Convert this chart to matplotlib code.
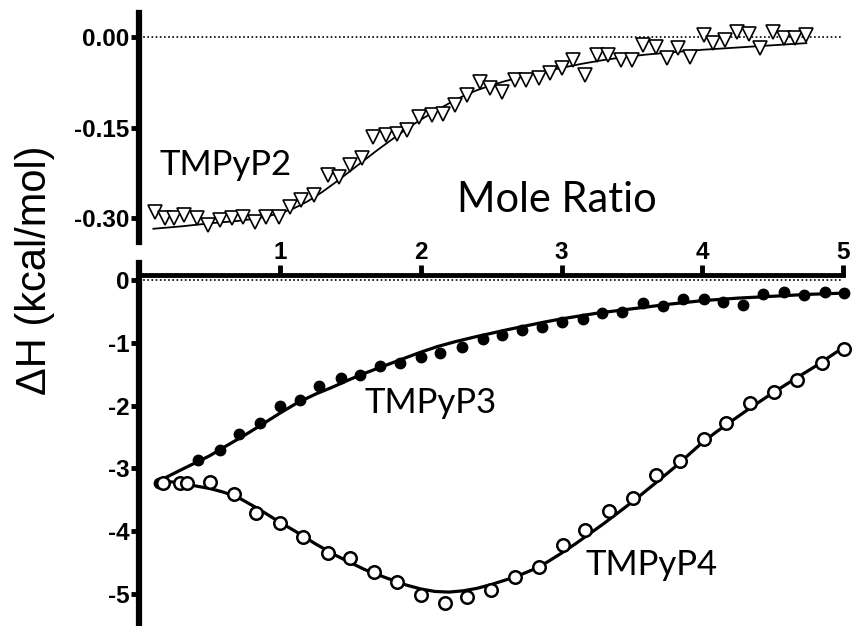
import matplotlib
matplotlib.use('Agg')
import matplotlib.pyplot as plt

# ==============================================
# Data
# ==============================================
# TMPyP2 (top panel), open triangles
p2_x = [0.11, 0.18, 0.25, 0.32, 0.41, 0.49, 0.57, 0.66, 0.74, 0.82, 0.90, 0.99,
        1.07, 1.15, 1.24, 1.34, 1.42, 1.50, 1.58, 1.66, 1.75, 1.83, 1.90, 1.99,
        2.08, 2.16, 2.24, 2.33, 2.42, 2.49, 2.58, 2.67, 2.75, 2.84, 2.92, 3.00,
        3.08, 3.17, 3.25, 3.33, 3.42, 3.50, 3.58, 3.67, 3.75, 3.83, 3.91, 4.01,
        4.08, 4.16, 4.25, 4.33, 4.41, 4.50, 4.58, 4.66, 4.74]
p2_y = [-0.290, -0.300, -0.300, -0.295, -0.300, -0.312, -0.303, -0.300, -0.298,
        -0.307, -0.298, -0.298, -0.282, -0.270, -0.262, -0.229, -0.232, -0.212,
        -0.201, -0.165, -0.162, -0.160, -0.154, -0.132, -0.130, -0.127, -0.113,
        -0.096, -0.074, -0.085, -0.091, -0.071, -0.071, -0.068, -0.060, -0.052,
        -0.038, -0.063, -0.030, -0.030, -0.038, -0.038, -0.013, -0.016, -0.035,
        -0.018, -0.033, 0.003, -0.010, -0.005, 0.008, 0.006, -0.018, 0.008,
        -0.002, -0.002, 0.003]
p2_fit_x = [0.1, 0.3, 0.5, 0.7, 0.8, 0.9, 1.0, 1.1, 1.2, 1.3, 1.4, 1.5, 1.6,
            1.7, 1.8, 1.9, 2.0, 2.1, 2.2, 2.3, 2.4, 2.5, 2.6, 2.8, 3.0, 3.15,
            3.3, 3.45, 3.6, 3.8, 4.0, 4.2, 4.4, 4.6, 4.74]
p2_fit_y = [-0.318, -0.314, -0.309, -0.305, -0.302, -0.298, -0.292, -0.284,
            -0.272, -0.257, -0.240, -0.222, -0.204, -0.186, -0.169, -0.152,
            -0.137, -0.123, -0.110, -0.098, -0.088, -0.080, -0.073, -0.061,
            -0.051, -0.044, -0.038, -0.033, -0.029, -0.025, -0.021, -0.018,
            -0.015, -0.012, -0.010]

# TMPyP3 (bottom panel), filled circles
p3_x = [0.14, 0.17, 0.42, 0.57, 0.71, 0.86, 1.00, 1.14, 1.28, 1.43, 1.57, 1.71,
        1.85, 2.00, 2.14, 2.29, 2.44, 2.58, 2.72, 2.86, 3.00, 3.15, 3.29, 3.43,
        3.58, 3.72, 3.86, 4.01, 4.15, 4.29, 4.43, 4.58, 4.72, 4.87, 5.01]
p3_y = [-3.23, -3.22, -2.87, -2.71, -2.45, -2.28, -2.00, -1.91, -1.69, -1.56,
        -1.51, -1.37, -1.32, -1.23, -1.17, -1.07, -0.94, -0.88, -0.80, -0.75,
        -0.67, -0.62, -0.53, -0.51, -0.37, -0.41, -0.30, -0.30, -0.35, -0.40,
        -0.22, -0.19, -0.24, -0.19, -0.21]
p3_fit_x = [0.14, 0.22, 0.3, 0.4, 0.5, 0.62, 0.75, 0.88, 1.0, 1.12, 1.25, 1.38,
            1.5, 1.62, 1.75, 1.88, 2.0, 2.12, 2.25, 2.38, 2.5, 2.62, 2.75,
            2.88, 3.0, 3.25, 3.5, 3.75, 4.0, 4.25, 4.5, 4.75, 5.0]
p3_fit_y = [-3.20, -3.11, -3.02, -2.91, -2.80, -2.64, -2.47, -2.29, -2.12,
            -1.96, -1.82, -1.70, -1.58, -1.47, -1.36, -1.25, -1.15, -1.06,
            -0.98, -0.91, -0.85, -0.79, -0.73, -0.67, -0.62, -0.53, -0.46,
            -0.39, -0.33, -0.29, -0.26, -0.23, -0.21]

# TMPyP4 (bottom panel), open circles
p4_x = [0.17, 0.29, 0.34, 0.50, 0.67, 0.83, 1.00, 1.16, 1.34, 1.50, 1.67, 1.83,
        2.00, 2.17, 2.33, 2.50, 2.67, 2.84, 3.01, 3.17, 3.34, 3.51, 3.67, 3.84,
        4.01, 4.17, 4.34, 4.51, 4.67, 4.85, 5.01]
p4_y = [-3.23, -3.23, -3.23, -3.22, -3.41, -3.71, -3.87, -4.09, -4.35, -4.43,
        -4.65, -4.81, -5.02, -5.14, -5.05, -4.94, -4.73, -4.57, -4.22, -3.98,
        -3.68, -3.47, -3.10, -2.88, -2.53, -2.27, -1.96, -1.78, -1.59, -1.32,
        -1.10]
p4_fit_x = [0.14, 0.25, 0.35, 0.5, 0.6, 0.7, 0.85, 1.0, 1.1, 1.25, 1.4, 1.5,
            1.6, 1.75, 1.9, 2.0, 2.1, 2.2, 2.3, 2.4, 2.5, 2.67, 2.8, 2.9, 3.0,
            3.1, 3.2, 3.3, 3.4, 3.5, 3.67, 3.8, 3.9, 4.0, 4.1, 4.2, 4.34, 4.5,
            4.67, 4.8, 5.0]
p4_fit_y = [-3.20, -3.22, -3.26, -3.32, -3.38, -3.46, -3.65, -3.86, -3.99,
            -4.20, -4.39, -4.50, -4.61, -4.74, -4.86, -4.92, -4.96, -4.97,
            -4.95, -4.91, -4.85, -4.73, -4.61, -4.49, -4.35, -4.20, -4.04,
            -3.88, -3.71, -3.54, -3.23, -2.99, -2.79, -2.59, -2.42, -2.26,
            -2.04, -1.80, -1.56, -1.38, -1.08]

x_ticks = [1, 2, 3, 4, 5]
top_yticks = [0.0, -0.15, -0.30]
top_ylabels = ['0.00', '-0.15', '-0.30']
bot_yticks = [0, -1, -2, -3, -4, -5]
bot_ylabels = ['0', '-1', '-2', '-3', '-4', '-5']

tick_font = {'family': 'Liberation Sans', 'weight': 'bold', 'size': 17.5}
label_font = 'Lato'

fig = plt.figure(figsize=(8.52, 6.26), dpi=100)

# ==============================================
# Top panel (TMPyP2)
# ==============================================
ax1 = fig.add_axes([0.1635, 0.6134, 0.8259, 0.3658])
ax1.set_xlim(0, 5)
ax1.set_ylim(-0.34, 0.04)
ax1.axhline(0, color='k', lw=1.2, ls=(0, (1, 1.5)))
ax1.plot(p2_fit_x, p2_fit_y, color='k', lw=1.3)
ax1.plot(p2_x, p2_y, 'v', ms=10, mfc='white', mec='k', mew=1.2, clip_on=False)
for s in ['top', 'right', 'bottom']:
    ax1.spines[s].set_visible(False)
ax1.spines['left'].set_linewidth(4.5)
ax1.set_xticks([])
ax1.set_yticks(top_yticks)
ax1.set_yticklabels(top_ylabels, fontdict=tick_font)
ax1.tick_params(axis='y', length=6, width=3.5, pad=1)
ax1.text(0.61, -0.212, 'TMPyP2', fontsize=25, family=label_font,
         ha='center', va='center')
ax1.text(2.97, -0.270, 'Mole Ratio', fontsize=30, family=label_font,
         ha='center', va='center')

# ==============================================
# Bottom panel (TMPyP3 / TMPyP4)
# ==============================================
ax2 = fig.add_axes([0.1635, 0.0, 0.8259, 0.5799])
ax2.set_xlim(0, 5)
ax2.set_ylim(-5.51, 0.27)
ax2.axhline(0, color='k', lw=1.2, ls=(0, (1, 1.5)))
ax2.plot(p3_fit_x, p3_fit_y, color='k', lw=2.3)
ax2.plot(p4_fit_x, p4_fit_y, color='k', lw=2.3)
ax2.plot(p3_x, p3_y, 'o', ms=7.5, color='k', clip_on=False)
ax2.plot(p4_x, p4_y, 'o', ms=9, mfc='white', mec='k', mew=1.8, clip_on=False)
for s in ['right', 'bottom']:
    ax2.spines[s].set_visible(False)
ax2.spines['left'].set_linewidth(4.5)
ax2.spines['top'].set_position(('data', 0.08))
ax2.spines['top'].set_linewidth(3.5)
ax2.xaxis.set_ticks_position('top')
ax2.xaxis.set_label_position('top')
ax2.set_xticks(x_ticks)
ax2.set_xticklabels([str(t) for t in x_ticks], fontdict=tick_font)
ax2.tick_params(axis='x', length=7, width=3.5, pad=1)
ax2.set_yticks(bot_yticks)
ax2.set_yticklabels(bot_ylabels, fontdict=tick_font)
ax2.tick_params(axis='y', length=6, width=3.5, pad=1)
ax2.text(2.07, -1.96, 'TMPyP3', fontsize=25, family=label_font,
         ha='center', va='center')
ax2.text(3.64, -4.54, 'TMPyP4', fontsize=25, family=label_font,
         ha='center', va='center')

fig.text(0.041, 0.569, 'ΔH (kcal/mol)', rotation=90, fontsize=30,
         family='Liberation Sans', ha='center', va='center')

fig.savefig('out.png', dpi=100)
